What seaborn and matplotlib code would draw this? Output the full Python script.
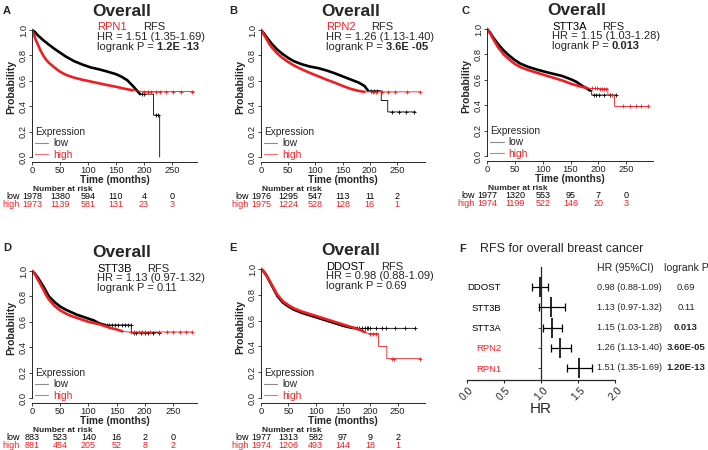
'''
    Curvas de Kaplan-Meier (RFS) para RPN1, RPN2, STT3A, STT3B y DDOST
    en cancer de mama, junto con un forest plot de los HR.
'''

import numpy as np
import seaborn as sns
import matplotlib
matplotlib.use('Agg')
from matplotlib import pyplot as plt
from matplotlib.lines import Line2D

# ----------------------------------------------------------------------
# Datos.
# ----------------------------------------------------------------------
genes_km = ['RPN1', 'RPN2', 'STT3A', 'STT3B', 'DDOST']
hr_km = ['HR = 1.51 (1.35-1.69)', 'HR = 1.26 (1.13-1.40)',
         'HR = 1.15 (1.03-1.28)', 'HR = 1.13 (0.97-1.32)',
         'HR = 0.98 (0.88-1.09)']
p_km = ['1.2E -13', '3.6E -05', '0.013', '0.11', '0.69']
p_km_negrita = [True, True, True, False, False]

tiempos_riesgo = [0, 50, 100, 150, 200, 250]
riesgo_low = [
    [1978, 1380, 594, 110, 4, 0],
    [1976, 1295, 547, 113, 11, 2],
    [1977, 1320, 553, 95, 7, 0],
    [883, 523, 140, 16, 2, 0],
    [1977, 1313, 582, 97, 9, 2],
]
riesgo_high = [
    [1973, 1139, 581, 131, 23, 3],
    [1975, 1224, 528, 128, 16, 1],
    [1974, 1199, 522, 146, 20, 3],
    [881, 454, 205, 52, 8, 2],
    [1974, 1206, 493, 144, 18, 1],
]

# Curvas (tiempo en meses, probabilidad). Tiempos repetidos = caidas.
# A - RPN1
a_low_t = [0, 5, 10, 20, 30, 40, 50, 60, 75, 90, 105, 120, 135, 150, 160,
           170, 180, 188, 193, 217, 217, 228, 228]
a_low_s = [1.0, 0.985, 0.96, 0.92, 0.885, 0.852, 0.822, 0.792, 0.755, 0.728,
           0.705, 0.69, 0.672, 0.652, 0.632, 0.605, 0.56, 0.52, 0.495, 0.495,
           0.33, 0.33, 0.0]
a_low_cens = [196, 200, 221, 225]
a_high_t = [0, 3, 6, 10, 15, 20, 25, 30, 40, 50, 60, 75, 90, 105, 120, 135,
            150, 165, 180, 200, 290]
a_high_s = [1.0, 0.97, 0.93, 0.89, 0.84, 0.80, 0.767, 0.742, 0.705, 0.672,
            0.648, 0.625, 0.608, 0.594, 0.58, 0.566, 0.553, 0.538, 0.525,
            0.515, 0.515]
a_high_cens = [200, 207, 213, 222, 228, 240, 252, 266, 286]

# B - RPN2
b_low_t = [0, 5, 10, 20, 30, 40, 50, 60, 75, 90, 105, 120, 135, 150, 165,
           180, 190, 197, 221, 221, 233, 233, 284]
b_low_s = [1.0, 0.975, 0.945, 0.89, 0.845, 0.81, 0.78, 0.755, 0.73, 0.712,
           0.70, 0.682, 0.66, 0.635, 0.61, 0.585, 0.56, 0.522, 0.522, 0.445,
           0.445, 0.355, 0.355]
b_low_cens = [203, 208, 213, 241, 253, 266, 282]
b_high_t = [0, 5, 10, 15, 20, 30, 40, 50, 60, 75, 90, 105, 120, 135, 150,
            165, 180, 190, 293]
b_high_s = [1.0, 0.965, 0.93, 0.893, 0.862, 0.815, 0.778, 0.748, 0.722,
            0.69, 0.662, 0.636, 0.61, 0.586, 0.56, 0.536, 0.52, 0.513, 0.513]
b_high_cens = [205, 212, 222, 234, 247, 268, 293]

# C - STT3A
c_low_t = [0, 5, 10, 20, 30, 40, 50, 60, 75, 90, 105, 120, 135, 150, 160,
           170, 180, 185, 188, 188, 232]
c_low_s = [1.0, 0.975, 0.94, 0.88, 0.83, 0.79, 0.755, 0.727, 0.70, 0.68,
           0.662, 0.646, 0.63, 0.605, 0.585, 0.555, 0.53, 0.515, 0.515, 0.48,
           0.48]
c_low_cens = [192, 196, 201, 210, 220, 232]
c_high_t = [0, 5, 10, 20, 30, 40, 50, 60, 75, 90, 105, 120, 135, 150, 165,
            180, 200, 217, 217, 229, 229, 289]
c_high_s = [1.0, 0.97, 0.93, 0.855, 0.80, 0.76, 0.725, 0.70, 0.675, 0.655,
            0.635, 0.615, 0.595, 0.57, 0.55, 0.535, 0.53, 0.53, 0.48, 0.48,
            0.39, 0.39]
c_high_cens = [188, 193, 197, 203, 207, 210, 214, 224, 244, 256, 268, 277,
               289]

# D - STT3B
d_low_t = [0, 5, 10, 15, 20, 25, 30, 40, 50, 60, 70, 80, 90, 100, 110, 118,
           125, 130, 176, 176, 226]
d_low_s = [1.0, 0.98, 0.95, 0.915, 0.88, 0.84, 0.80, 0.755, 0.72, 0.695,
           0.675, 0.655, 0.64, 0.625, 0.61, 0.59, 0.58, 0.575, 0.575, 0.515,
           0.515]
d_low_cens = [133, 137, 142, 148, 153, 160, 165, 170, 175, 180, 185, 193,
              200, 205, 215, 226]
d_high_t = [0, 5, 10, 15, 20, 25, 30, 40, 50, 60, 70, 80, 90, 100, 110, 120,
            130, 140, 150, 160, 170, 284]
d_high_s = [1.0, 0.975, 0.935, 0.895, 0.855, 0.81, 0.775, 0.725, 0.69, 0.665,
            0.645, 0.63, 0.615, 0.60, 0.59, 0.58, 0.565, 0.55, 0.54, 0.525,
            0.52, 0.52]
d_high_cens = [175, 180, 190, 195, 200, 210, 225, 240, 250, 262, 273, 284]

# E - DDOST
e_low_t = [0, 5, 10, 20, 30, 40, 50, 60, 75, 90, 105, 120, 135, 150, 165,
           175, 282]
e_low_s = [1.0, 0.98, 0.95, 0.87, 0.79, 0.74, 0.71, 0.685, 0.66, 0.64, 0.62,
           0.60, 0.58, 0.56, 0.545, 0.54, 0.54]
e_low_cens = [175, 180, 185, 190, 193, 196, 200, 210, 221, 228, 245, 263, 282]
e_high_t = [0, 5, 10, 20, 30, 40, 50, 60, 75, 90, 105, 120, 135, 150, 165,
            180, 190, 196, 215, 215, 230, 230, 291]
e_high_s = [1.0, 0.98, 0.95, 0.875, 0.80, 0.75, 0.72, 0.695, 0.67, 0.65,
            0.63, 0.61, 0.59, 0.57, 0.55, 0.53, 0.51, 0.50, 0.50, 0.40, 0.40,
            0.305, 0.305]
e_high_cens = [200, 205, 210, 240, 243, 291]

# Tramo donde la curva se ve gruesa (censuras muy densas).
grueso_low = [195, 198, 185, 130, 175]
grueso_high = [190, 190, 185, 160, 192]

# Forest plot.
genes_forest = ['DDOST', 'STT3B', 'STT3A', 'RPN2', 'RPN1']
hr_forest = [0.98, 1.13, 1.15, 1.26, 1.51]
ic_bajo = [0.88, 0.97, 1.03, 1.13, 1.35]
ic_alto = [1.09, 1.32, 1.28, 1.40, 1.69]
hr_forest_txt = ['0.98 (0.88-1.09)', '1.13 (0.97-1.32)', '1.15 (1.03-1.28)',
                 '1.26 (1.13-1.40)', '1.51 (1.35-1.69)']
p_forest = ['0.69', '0.11', '0.013', '3.60E-05', '1.20E-13']
p_forest_negrita = [False, False, True, True, True]

# ----------------------------------------------------------------------
W, H = 708, 450
ROJO = '#ee1f23'


def rect_px(left, top, right, bottom):
    # Convierte un rectangulo en pixeles (origen arriba) a fraccion de figura.
    return [left / W, 1 - bottom / H, (right - left) / W, (bottom - top) / H]


def panel_km(fig, geo, idx, curvas):
    x0, y1, y0, ppm, x_der = geo
    top, bottom = y1 - 2, y0 + 5
    ppu = y0 - y1
    ax = fig.add_axes(rect_px(x0, top, x_der, bottom))
    ax.patch.set_alpha(0)

    for (t, s, cens, t_grueso), color in zip(curvas, ['black', ROJO]):
        t = np.asarray(t, float)
        s = np.asarray(s, float)
        sns.lineplot(x=t, y=s, sort=False, estimator=None, color=color,
                     lw=0.6, ax=ax)
        m = t <= t_grueso
        sns.lineplot(x=t[m], y=s[m], sort=False, estimator=None, color=color,
                     lw=1.9, ax=ax)
        cens = np.asarray(cens, float)
        s_cens = s[np.searchsorted(t, cens, side='right') - 1]
        ax.plot(cens, s_cens, ls='none', marker='+', ms=3.5, mew=0.6,
                color=color)

    ylo = -(bottom - y0) / ppu
    yhi = 1 + (y1 - top) / ppu
    ax.set_xlim(0, (x_der - x0) / ppm)
    ax.set_ylim(ylo, yhi)
    sns.despine(ax=ax)
    ax.spines['left'].set_bounds(0, 1)
    for sp in ['left', 'bottom']:
        ax.spines[sp].set_linewidth(0.7)

    ax.set_xticks(tiempos_riesgo)
    ax.set_xticklabels([str(v) for v in tiempos_riesgo])
    yt = [0, 0.2, 0.4, 0.6, 0.8, 1.0]
    ax.set_yticks(yt)
    ax.set_yticklabels([f'{v:.1f}' for v in yt], rotation=90, va='center')
    ax.tick_params(length=2.5, width=0.6, pad=0.5, labelsize=6.7,
                   labelcolor='#222222')

    ancho = x_der - x0
    alto = bottom - top
    ax.set_xlabel('Time (months)', fontsize=7.3, fontweight='bold')
    ax.xaxis.set_label_coords(0.5, -13 / alto)
    ax.set_ylabel('Probability', fontsize=7.5, fontweight='bold')
    ax.yaxis.set_label_coords(-16 / ancho, (0.55 - ylo) / (yhi - ylo))

    # Leyenda.
    handles = [Line2D([], [], color='#8c8c8c', lw=0.8),
               Line2D([], [], color='#f07070', lw=0.8)]
    leg = ax.legend(handles, ['low', 'high'], title='Expression',
                    loc='lower left', bbox_to_anchor=(0.02, 0.015),
                    frameon=False, fontsize=7.3, title_fontsize=7.3,
                    handlelength=1.3, handletextpad=0.5, labelspacing=0.15,
                    borderpad=0, borderaxespad=0, alignment='left')
    leg.get_texts()[1].set_color(ROJO)

    # Textos superiores.
    def txt_px(dx, dy, s, **kw):
        return fig.text((x0 + dx) / W, 1 - (y1 + dy) / H, s, **kw)

    txt_px(90, -18.5, 'Overall', ha='center', va='center', fontsize=12.5,
           fontweight='bold')
    color_gen = ROJO if genes_km[idx].startswith('RPN') else 'black'
    render = fig.canvas.get_renderer()
    g = txt_px(65, 0.5, genes_km[idx], color=color_gen, fontsize=8,
               va='baseline')
    bb = g.get_window_extent(render)
    fig.text((bb.x1 + 16) / W, bb.y0 / H, 'RFS', fontsize=8, va='bottom')
    txt_px(65, 10, hr_km[idx], fontsize=8, va='baseline')
    lg = txt_px(65, 20, 'logrank P =', fontsize=8, va='baseline')
    bb = lg.get_window_extent(render)
    fig.text((bb.x1 + 3) / W, 1 - (y1 + 20) / H, p_km[idx], fontsize=8,
             va='baseline',
             fontweight='bold' if p_km_negrita[idx] else 'normal')

    # Numero en riesgo.
    tr = ax.get_xaxis_transform()
    ax.annotate('Number at risk', xy=(0, 0), xycoords=tr, xytext=(1, -27.5),
                textcoords='offset pixels', ha='left', va='center',
                fontsize=6, fontweight='bold')
    filas = [(riesgo_low[idx], 'black', 'low', -34.5),
             (riesgo_high[idx], ROJO, 'high', -42.5)]
    for vals, color, etiqueta, dy in filas:
        for t, v in zip(tiempos_riesgo, vals):
            ax.annotate(str(v), xy=(t, 0), xycoords=tr, xytext=(0, dy),
                        textcoords='offset pixels', ha='center', va='center',
                        fontsize=6.5, color=color)
        ax.annotate(etiqueta, xy=(0, 0), xycoords=tr, xytext=(-12, dy),
                    textcoords='offset pixels', ha='right', va='center',
                    fontsize=6.5, color=color)
    return ax


def panel_forest(fig):
    left, top, right, bottom = 467, 267, 615, 380
    ax = fig.add_axes(rect_px(left, top, right, bottom))
    ax.patch.set_alpha(0)
    n = len(genes_forest)
    y = np.arange(n)[::-1]
    hr = np.asarray(hr_forest)
    err = [hr - np.asarray(ic_bajo), np.asarray(ic_alto) - hr]
    ax.errorbar(hr, y, xerr=err, fmt='none', ecolor='black', elinewidth=0.9,
                capsize=2.9, capthick=0.9)
    sns.scatterplot(x=hr, y=y, marker='|', s=210, color='black',
                    linewidth=1.2, ax=ax)

    ax.set_xlim(0, 2)
    ax.set_ylim(-12 / 20.25, 4 + 20 / 20.25)
    sns.despine(ax=ax)
    ax.spines['left'].set_position(('data', 1.0))
    for sp in ['left', 'bottom']:
        ax.spines[sp].set_linewidth(0.9)

    ax.set_yticks(y)
    ax.set_yticklabels(genes_forest, fontsize=6.8)
    for lab, gen in zip(ax.get_yticklabels(), genes_forest):
        lab.set_color(ROJO if gen.startswith('RPN') else 'black')
    ax.tick_params(axis='y', length=2.2, width=0.6, pad=26.5)

    xt = [0, 0.5, 1.0, 1.5, 2.0]
    ax.set_xticks(xt)
    ax.set_xticklabels([f'{v:.1f}' for v in xt], rotation=45, ha='center',
                       fontsize=7.5)
    ax.tick_params(axis='x', length=2.5, width=0.8, pad=1)
    ax.set_xlabel('HR', fontsize=11)
    ax.xaxis.set_label_coords(0.5, -22 / (bottom - top))

    # Columnas de texto.
    trf = ax.get_yaxis_transform()
    x_hr = (597 - left) / (right - left)
    x_p = (686 - left) / (right - left)
    for yi, txt, p, neg in zip(y, hr_forest_txt, p_forest, p_forest_negrita):
        ax.text(x_hr, yi, txt, transform=trf, ha='left', va='center',
                fontsize=6.6)
        ax.text(x_p, yi, p, transform=trf, ha='center', va='center',
                fontsize=6.8, fontweight='bold' if neg else 'normal')
    fig.text(597 / W, 1 - 268 / H, 'HR (95%CI)', fontsize=7.6, va='center')
    fig.text(664 / W, 1 - 268 / H, 'logrank P', fontsize=7.6, va='center')
    fig.text(480 / W, 1 - 249 / H, 'RFS for overall breast cancer',
             fontsize=9, va='center')
    return ax


def main() -> None:
    sns.set_style('ticks')
    plt.rcParams['font.family'] = ['Liberation Sans', 'DejaVu Sans']

    fig = plt.figure(figsize=(W / 100, H / 100), dpi=100)
    fig.patch.set_facecolor('white')

    # (x de t=0, y de p=1, y de p=0, px por mes, x final del eje)
    geometria = [
        (32, 30, 157, 0.56, 197),
        (261, 30, 157, 0.544, 425),
        (487, 29, 156, 0.557, 653),
        (32, 271, 398, 0.564, 197),
        (261, 269, 398, 0.547, 425),
    ]
    curvas = [
        [(a_low_t, a_low_s, a_low_cens, grueso_low[0]),
         (a_high_t, a_high_s, a_high_cens, grueso_high[0])],
        [(b_low_t, b_low_s, b_low_cens, grueso_low[1]),
         (b_high_t, b_high_s, b_high_cens, grueso_high[1])],
        [(c_low_t, c_low_s, c_low_cens, grueso_low[2]),
         (c_high_t, c_high_s, c_high_cens, grueso_high[2])],
        [(d_low_t, d_low_s, d_low_cens, grueso_low[3]),
         (d_high_t, d_high_s, d_high_cens, grueso_high[3])],
        [(e_low_t, e_low_s, e_low_cens, grueso_low[4]),
         (e_high_t, e_high_s, e_high_cens, grueso_high[4])],
    ]
    for i, (geo, cur) in enumerate(zip(geometria, curvas)):
        panel_km(fig, geo, i, cur)

    panel_forest(fig)

    # Letras de los paneles.
    letras = [('A', 7, 10.5), ('B', 233, 10.5), ('C', 465, 10.5),
              ('D', 7, 248.5), ('E', 233, 248.5), ('F', 463, 249)]
    for letra, x, y in letras:
        fig.text(x / W, 1 - y / H, letra, ha='center', va='center',
                 fontsize=8, fontweight='bold')

    fig.savefig('out.png', dpi=100, facecolor='white')


if __name__ == '__main__':
    main()
